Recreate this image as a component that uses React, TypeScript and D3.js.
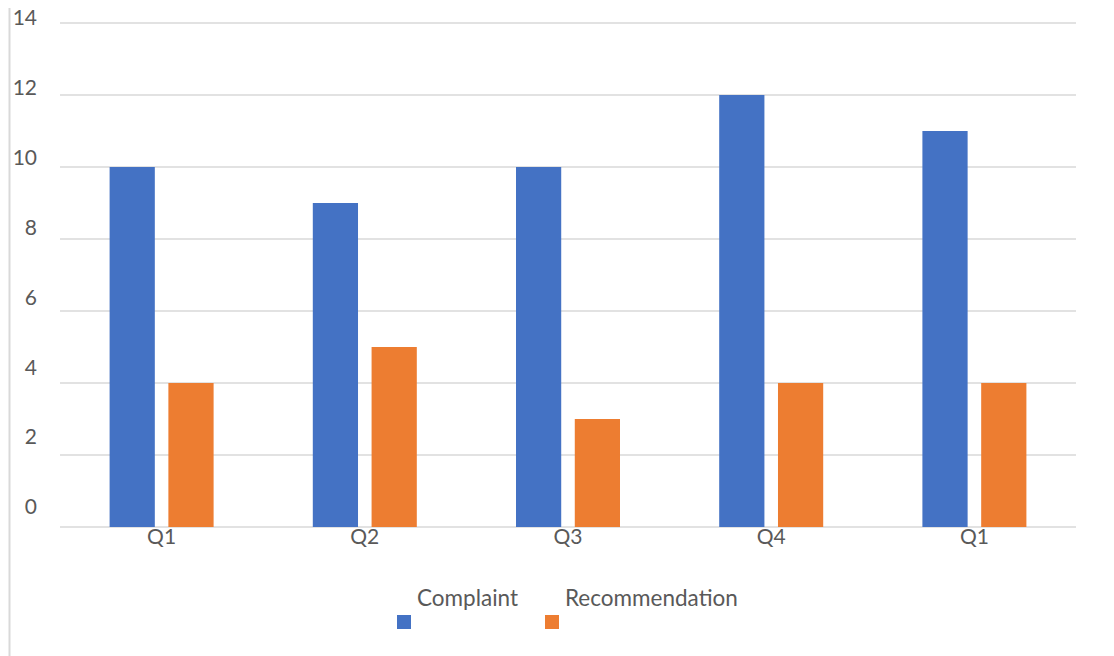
import { useRef, useEffect } from 'react';
import * as d3 from 'd3';

const categories = ['Q1', 'Q2', 'Q3', 'Q4', 'Q1'];
const complaint = [10, 9, 10, 12, 11];
const recommendation = [4, 5, 3, 4, 4];
const seriesNames = ['Complaint', 'Recommendation'];
const seriesColors = ['#4472C4', '#ED7D31'];
const yTicks = [0, 2, 4, 6, 8, 10, 12, 14];

const FONT = 'Lato, "Open Sans", sans-serif';
const TEXT_COLOR = '#595959';
const GRID_COLOR = '#d9d9d9';

export default function App() {
  const svgRef = useRef<SVGSVGElement | null>(null);
  const width = 1114;
  const height = 656;

  useEffect(() => {
    const svg = d3.select(svgRef.current);
    svg.selectAll('*').remove();
    svg.attr('width', width).attr('height', height);

    // plot area
    const plot = { left: 60, right: 1076, top: 23, bottom: 527 };

    const x = d3.scaleBand<number>()
      .domain(categories.map((_, i) => i))
      .range([plot.left, plot.right]);
    const inner = d3.scaleBand<number>()
      .domain([0, 1])
      .range([x.bandwidth() / 2 - 52, x.bandwidth() / 2 + 52])
      .paddingInner(12 / 104 * 2)
      .paddingOuter(0);
    const y = d3.scaleLinear().domain([0, 14]).range([plot.bottom, plot.top]);
    // tick labels sit slightly above the gridlines, on their own spacing
    const yLabel = d3.scaleLinear().domain([0, 14]).range([507, 18]);

    // left frame line
    svg.append('line')
      .attr('x1', 9.5).attr('x2', 9.5)
      .attr('y1', 8).attr('y2', height)
      .attr('stroke', GRID_COLOR)
      .attr('stroke-width', 2);

    // gridlines
    svg.append('g')
      .selectAll('line')
      .data(yTicks)
      .join('line')
      .attr('x1', plot.left)
      .attr('x2', plot.right)
      .attr('y1', d => y(d))
      .attr('y2', d => y(d))
      .attr('stroke', GRID_COLOR)
      .attr('stroke-width', 1.3);

    // y labels
    svg.append('g')
      .selectAll('text')
      .data(yTicks)
      .join('text')
      .attr('x', 37)
      .attr('y', d => yLabel(d))
      .attr('dy', '0.35em')
      .attr('text-anchor', 'end')
      .attr('font-family', FONT)
      .attr('font-size', 21)
      .attr('fill', TEXT_COLOR)
      .text(d => d);

    // bars
    const series = [complaint, recommendation];
    const bars = svg.append('g');
    categories.forEach((_, i) => {
      series.forEach((vals, s) => {
        const x0 = (x(i) ?? 0) + (inner(s) ?? 0);
        bars.append('rect')
          .attr('x', x0)
          .attr('y', y(vals[i]))
          .attr('width', inner.bandwidth())
          .attr('height', y(0) - y(vals[i]))
          .attr('fill', seriesColors[s]);
      });
    });

    // x labels
    svg.append('g')
      .selectAll('text')
      .data(categories)
      .join('text')
      .attr('x', (_, i) => (x(i) ?? 0) + x.bandwidth() / 2)
      .attr('y', 544)
      .attr('text-anchor', 'middle')
      .attr('font-family', FONT)
      .attr('font-size', 21)
      .attr('fill', TEXT_COLOR)
      .text(d => d);

    // legend
    const legendX = [397, 545];
    seriesNames.forEach((name, s) => {
      const g = svg.append('g').attr('transform', `translate(${legendX[s]},0)`);
      g.append('rect')
        .attr('x', 0).attr('y', 615)
        .attr('width', 14).attr('height', 14)
        .attr('fill', seriesColors[s]);
      g.append('text')
        .attr('x', 20)
        .attr('y', 606)
        .attr('font-family', FONT)
        .attr('font-size', 22.5)
        .attr('fill', TEXT_COLOR)
        .text(name);
    });
  }, []);

  return (
    <svg
      ref={svgRef}
      style={{ position: 'absolute', left: 0, top: 0, background: '#fff' }}
    ></svg>
  );
}
